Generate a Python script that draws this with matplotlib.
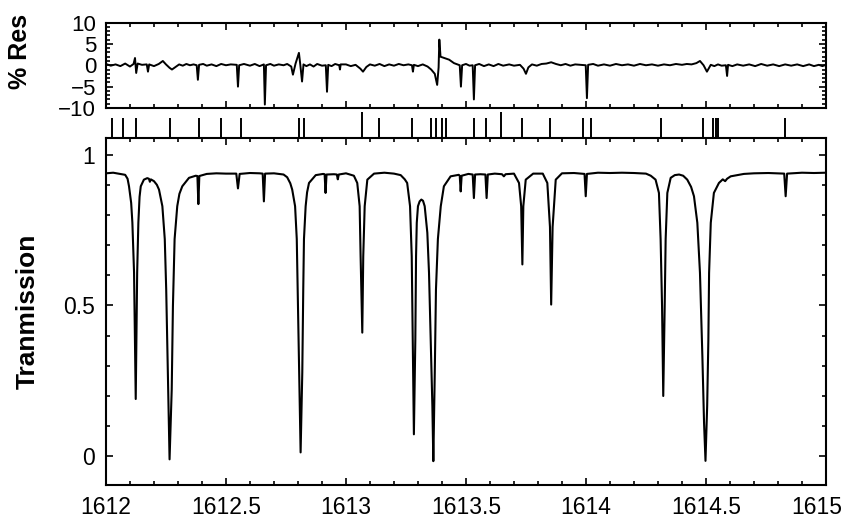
import matplotlib.pyplot as plt
from matplotlib.ticker import MultipleLocator
from matplotlib.transforms import ScaledTranslation
import numpy as np

plt.rcParams['font.family'] = ['Liberation Sans', 'DejaVu Sans']

# transmission spectrum, (wavenumber, transmission)
spectrum = [
    (1612.000, 0.938), (1612.030, 0.940), (1612.060, 0.936), (1612.080, 0.933),
    (1612.090, 0.920), (1612.096, 0.895), (1612.105, 0.840), (1612.110, 0.775),
    (1612.117, 0.610), (1612.124, 0.190), (1612.130, 0.610), (1612.135, 0.775),
    (1612.140, 0.860), (1612.145, 0.895), (1612.158, 0.917), (1612.172, 0.922),
    (1612.179, 0.920), (1612.183, 0.910), (1612.187, 0.918), (1612.200, 0.912),
    (1612.212, 0.900), (1612.221, 0.884), (1612.235, 0.829), (1612.245, 0.720),
    (1612.251, 0.553), (1612.258, 0.278), (1612.265, -0.010), (1612.274, 0.222),
    (1612.279, 0.498), (1612.286, 0.720), (1612.297, 0.829), (1612.306, 0.870),
    (1612.318, 0.895), (1612.346, 0.923), (1612.374, 0.930), (1612.381, 0.929),
    (1612.385, 0.836), (1612.389, 0.929), (1612.420, 0.936), (1612.460, 0.938),
    (1612.500, 0.937), (1612.543, 0.937), (1612.550, 0.888), (1612.557, 0.936),
    (1612.600, 0.939), (1612.640, 0.938), (1612.653, 0.937), (1612.658, 0.845),
    (1612.663, 0.937), (1612.700, 0.938), (1612.740, 0.934), (1612.755, 0.925),
    (1612.768, 0.905), (1612.776, 0.884), (1612.788, 0.829), (1612.795, 0.720),
    (1612.800, 0.500), (1612.805, 0.278), (1612.811, 0.013), (1612.818, 0.278),
    (1612.822, 0.553), (1612.825, 0.720), (1612.832, 0.829), (1612.838, 0.875),
    (1612.846, 0.906), (1612.874, 0.932), (1612.905, 0.936), (1612.911, 0.935),
    (1612.915, 0.873), (1612.919, 0.934), (1612.950, 0.935), (1612.962, 0.934),
    (1612.966, 0.918), (1612.970, 0.934), (1613.000, 0.938), (1613.033, 0.930),
    (1613.047, 0.906), (1613.057, 0.829), (1613.061, 0.663), (1613.068, 0.410),
    (1613.072, 0.663), (1613.078, 0.829), (1613.089, 0.917), (1613.117, 0.937),
    (1613.160, 0.940), (1613.200, 0.937), (1613.228, 0.932), (1613.245, 0.918),
    (1613.255, 0.906), (1613.267, 0.829), (1613.274, 0.663), (1613.278, 0.387),
    (1613.283, 0.073), (1613.289, 0.387), (1613.292, 0.663), (1613.295, 0.774),
    (1613.300, 0.829), (1613.307, 0.845), (1613.314, 0.851), (1613.321, 0.847),
    (1613.328, 0.829), (1613.339, 0.741), (1613.346, 0.608), (1613.353, 0.387),
    (1613.360, 0.167), (1613.364, -0.016), (1613.370, 0.277), (1613.375, 0.553),
    (1613.383, 0.720), (1613.395, 0.829), (1613.408, 0.895), (1613.436, 0.928),
    (1613.470, 0.933), (1613.474, 0.930), (1613.478, 0.878), (1613.482, 0.930),
    (1613.510, 0.936), (1613.528, 0.934), (1613.533, 0.856), (1613.538, 0.934),
    (1613.560, 0.935), (1613.581, 0.934), (1613.586, 0.856), (1613.591, 0.934),
    (1613.620, 0.937), (1613.650, 0.935), (1613.658, 0.928), (1613.665, 0.935),
    (1613.700, 0.937), (1613.721, 0.906), (1613.730, 0.829), (1613.735, 0.636),
    (1613.739, 0.829), (1613.749, 0.917), (1613.780, 0.937), (1613.820, 0.937),
    (1613.839, 0.906), (1613.850, 0.760), (1613.855, 0.503), (1613.861, 0.760),
    (1613.874, 0.917), (1613.900, 0.938), (1613.950, 0.939), (1613.994, 0.936),
    (1613.999, 0.862), (1614.004, 0.936), (1614.050, 0.940), (1614.100, 0.939),
    (1614.150, 0.940), (1614.200, 0.939), (1614.250, 0.937), (1614.270, 0.930),
    (1614.290, 0.917), (1614.304, 0.873), (1614.311, 0.720), (1614.317, 0.498),
    (1614.322, 0.200), (1614.328, 0.498), (1614.332, 0.720), (1614.339, 0.873),
    (1614.353, 0.923), (1614.370, 0.932), (1614.388, 0.934), (1614.405, 0.930),
    (1614.422, 0.917), (1614.438, 0.893), (1614.450, 0.862), (1614.464, 0.774),
    (1614.475, 0.608), (1614.485, 0.332), (1614.492, 0.111), (1614.498, -0.015),
    (1614.505, 0.167), (1614.510, 0.387), (1614.513, 0.608), (1614.520, 0.774),
    (1614.533, 0.873), (1614.554, 0.906), (1614.570, 0.918), (1614.580, 0.912),
    (1614.588, 0.920), (1614.603, 0.928), (1614.658, 0.936), (1614.700, 0.938),
    (1614.760, 0.939), (1614.826, 0.937), (1614.832, 0.862), (1614.838, 0.937),
    (1614.900, 0.940), (1614.950, 0.939), (1615.000, 0.940),
]

# fit residuals in percent
residuals = [
    (1612.000, 0.3), (1612.020, -0.1), (1612.040, 0.2), (1612.060, -0.2),
    (1612.080, 0.4), (1612.100, -0.3), (1612.115, 0.3), (1612.121, 1.7),
    (1612.126, -1.8), (1612.132, 0.4), (1612.150, 0.1), (1612.170, 0.2),
    (1612.175, -1.5), (1612.180, 0.2), (1612.200, -0.2), (1612.220, 0.3),
    (1612.237, 1.0), (1612.250, 0.2), (1612.265, -0.6), (1612.275, -1.0),
    (1612.290, -0.4), (1612.305, 0.2), (1612.320, -0.1), (1612.335, 0.3),
    (1612.350, 0.0), (1612.365, 0.2), (1612.378, 0.0), (1612.383, -3.4),
    (1612.388, 0.1), (1612.405, 0.3), (1612.420, -0.1), (1612.440, 0.2),
    (1612.460, -0.2), (1612.480, 0.3), (1612.500, 0.0), (1612.520, 0.2),
    (1612.545, 0.1), (1612.550, -5.0), (1612.555, 0.0), (1612.575, 0.3),
    (1612.600, -0.1), (1612.620, 0.3), (1612.640, -0.2), (1612.658, 0.2),
    (1612.662, -9.2), (1612.667, 0.0), (1612.685, 0.3), (1612.700, -0.1),
    (1612.720, 0.2), (1612.740, 0.0), (1612.755, 0.3), (1612.772, -0.3),
    (1612.779, -2.2), (1612.790, 0.4), (1612.804, 2.9), (1612.810, 0.0),
    (1612.817, -3.8), (1612.823, 0.2), (1612.835, -0.2), (1612.850, 0.2),
    (1612.865, -0.3), (1612.880, 0.3), (1612.900, -0.1), (1612.916, 0.0),
    (1612.921, -6.2), (1612.926, 0.1), (1612.940, -0.2), (1612.955, 0.3),
    (1612.972, 0.0), (1612.975, -1.0), (1612.978, 0.2), (1613.000, 0.2),
    (1613.020, -0.2), (1613.040, 0.1), (1613.060, -0.8), (1613.071, -1.5),
    (1613.085, -0.4), (1613.100, 0.2), (1613.120, -0.1), (1613.140, 0.3),
    (1613.160, -0.2), (1613.180, 0.2), (1613.200, -0.1), (1613.220, 0.3),
    (1613.240, 0.0), (1613.260, 0.2), (1613.275, 0.0), (1613.279, -1.5),
    (1613.283, 0.1), (1613.300, -0.2), (1613.320, 0.2), (1613.340, -0.3),
    (1613.355, -1.0), (1613.370, -2.0), (1613.380, -4.6), (1613.386, -0.5),
    (1613.389, 6.0), (1613.394, 2.0), (1613.410, 1.7), (1613.430, 1.3),
    (1613.450, 0.5), (1613.474, 0.0), (1613.479, -5.0), (1613.484, 0.0),
    (1613.500, 0.3), (1613.515, -0.1), (1613.528, 0.0), (1613.533, -8.0),
    (1613.538, 0.0), (1613.555, 0.3), (1613.575, -0.2), (1613.595, 0.2),
    (1613.615, -0.2), (1613.635, 0.3), (1613.655, -0.1), (1613.680, 0.2),
    (1613.700, -0.1), (1613.725, 0.1), (1613.740, -0.8), (1613.750, -2.0),
    (1613.760, -0.5), (1613.775, 0.2), (1613.795, -0.1), (1613.815, 0.3),
    (1613.835, 0.4), (1613.855, 0.7), (1613.875, 0.3), (1613.895, 0.0),
    (1613.915, 0.3), (1613.935, -0.1), (1613.955, 0.2), (1613.980, 0.1),
    (1613.999, 0.0), (1614.004, -7.7), (1614.009, 0.1), (1614.030, 0.3),
    (1614.050, -0.1), (1614.075, 0.2), (1614.100, -0.1), (1614.125, 0.3),
    (1614.150, 0.0), (1614.175, 0.2), (1614.200, -0.1), (1614.225, 0.3),
    (1614.250, 0.0), (1614.275, 0.2), (1614.300, -0.1), (1614.325, 0.2),
    (1614.350, 0.0), (1614.375, 0.3), (1614.400, 0.1), (1614.420, 0.3),
    (1614.440, 0.2), (1614.460, 0.5), (1614.475, 1.0), (1614.490, 0.0),
    (1614.504, -1.5), (1614.520, 0.1), (1614.535, -0.2), (1614.550, 0.2),
    (1614.565, -0.1), (1614.583, 0.0), (1614.588, -2.5), (1614.592, 0.1),
    (1614.610, -0.2), (1614.630, 0.2), (1614.655, -0.1), (1614.680, 0.2),
    (1614.705, -0.2), (1614.730, 0.3), (1614.755, -0.1), (1614.780, 0.2),
    (1614.805, -0.2), (1614.830, 0.2), (1614.855, -0.1), (1614.880, 0.2),
    (1614.905, -0.2), (1614.930, 0.2), (1614.950, -0.2), (1614.970, 0.1),
    (1614.985, -0.2), (1615.000, 0.1),
]

# line positions shown in the stick strip
line_pos = [1612.025, 1612.071, 1612.125, 1612.266, 1612.386, 1612.478, 1612.561,
            1612.806, 1612.827, 1613.138, 1613.275, 1613.354, 1613.375, 1613.400,
            1613.417, 1613.533, 1613.583, 1613.732, 1613.849, 1613.986, 1614.019,
            1614.314, 1614.489, 1614.530, 1614.543, 1614.551, 1614.829]
tall_pos = [1613.068, 1613.645]

x_ticks = [1612, 1612.5, 1613, 1613.5, 1614, 1614.5, 1615]
x_labels = ['1612', '1612.5', '1613', '1613.5', '1614', '1614.5', '1615']

spec_x, spec_y = np.array(spectrum).T
res_x, res_y = np.array(residuals).T

fig = plt.figure(figsize=(8.43, 5.21), dpi=100)
ax_res = fig.add_axes([0.1257, 0.7927, 0.8541, 0.1641])
ax_lines = fig.add_axes([0.1257, 0.7351, 0.8541, 0.0499])
ax = fig.add_axes([0.1257, 0.0691, 0.8541, 0.666])

for a in (ax_res, ax):
    a.set_xlim(1612, 1615)
    a.xaxis.set_major_locator(MultipleLocator(0.5))
    a.xaxis.set_minor_locator(MultipleLocator(0.1))
    a.tick_params(which='both', direction='in', top=True, right=True, width=1.2, pad=8)
    a.tick_params(which='major', length=5)
    a.tick_params(which='minor', length=3)
    for s in a.spines.values():
        s.set_linewidth(1.5)

# residual panel
ax_res.plot(res_x, res_y, color='black', linewidth=1.4)
ax_res.set_ylim(-10, 10)
ax_res.set_yticks([-10, -5, 0, 5, 10])
ax_res.yaxis.set_minor_locator(MultipleLocator(1))
ax_res.tick_params(labelbottom=False, labelsize=16, pad=7)
ax_res.set_ylabel('% Res', fontsize=18, fontweight='bold')
ax_res.yaxis.set_label_coords(-0.103, 0.66)

# stick strip
ax_lines.set_xlim(1612, 1615)
ax_lines.set_ylim(0, 1)
ax_lines.vlines(line_pos, 0, 0.77, color='black', linewidth=1.4)
ax_lines.vlines(tall_pos, 0, 1.0, color='black', linewidth=1.4)
ax_lines.axis('off')

# main spectrum
ax.plot(spec_x, spec_y, color='black', linewidth=1.5)
ax.set_ylim(-0.095, 1.055)
ax.set_yticks([0, 0.5, 1])
ax.set_yticklabels(['0', '0.5', '1'])
ax.yaxis.set_minor_locator(MultipleLocator(0.1))
ax.set_xticks(x_ticks)
ax.set_xticklabels(x_labels)
ax.tick_params(labelsize=16.5)
ax.set_ylabel('Tranmission', fontsize=19, fontweight='bold')
ax.yaxis.set_label_coords(-0.092, 0.5)

# last label sits against the right edge, nudge it inside
last = ax.get_xticklabels()[-1]
last.set_transform(last.get_transform() + ScaledTranslation(-0.09, 0, fig.dpi_scale_trans))

fig.savefig('out.png', dpi=100)
